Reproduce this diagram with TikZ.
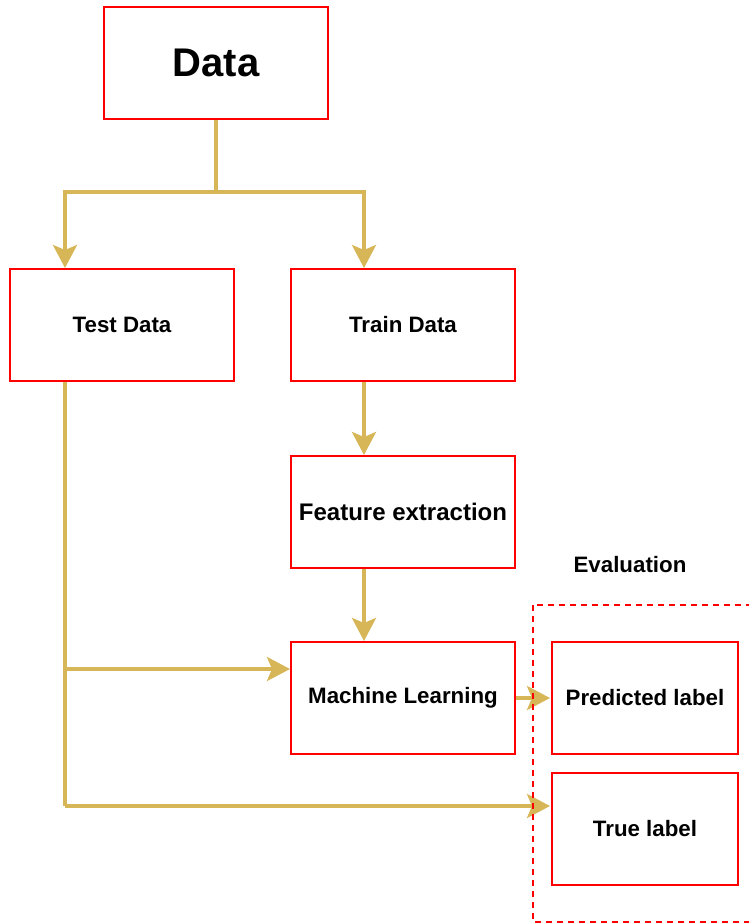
\documentclass[tikz,border=0pt]{standalone}
\usepackage{fontspec}
\setmainfont{Liberation Sans}
\usetikzlibrary{arrows.meta}
\definecolor{boxred}{HTML}{FF0000}
\definecolor{gold}{HTML}{D6B656}
\tikzset{
  box/.style={draw=boxred, line width=2pt, fill=white, minimum width=224pt,
    minimum height=112pt, inner sep=0pt, font=\bfseries\fontsize{22.3}{26}\selectfont},
  smallbox/.style={box, minimum width=186pt},
  wire/.style={draw=gold, line width=3.5pt},
  flow/.style={wire, -{Stealth[length=23pt, width=24pt, inset=5pt]}},
}
\begin{document}
\begin{tikzpicture}[x=1pt, y=-1pt]
  \useasboundingbox (0,0) rectangle (749,924);

  \node[box, font=\bfseries\fontsize{40}{48}\selectfont] (data) at (216,63) {Data};
  \node[box] (test)  at (122,325) {Test Data};
  \node[box] (train) at (403,325) {Train Data};
  \node[box, font=\bfseries\fontsize{24}{28}\selectfont] (feat) at (403,512) {Feature extraction};
  \node[box] (ml)    at (403,698) {Machine Learning};
  \node[smallbox] (pred) at (645,698) {Predicted label};
  \node[smallbox] (true) at (645,829) {True label};
  \node[font=\bfseries\fontsize{22.3}{26}\selectfont] (eval) at (630,565) {Evaluation};

  % column guides and bend points of the connectors
  \coordinate (colL) at (65,0);
  \coordinate (colR) at (364,0);
  \coordinate (fork) at (216,192);
  \coordinate (tap)  at (65,669);
  \coordinate (bot)  at (65,806);
  \coordinate (trueIn) at (550,806);

  \draw[wire] (data.south) -- (fork);
  \draw[flow] (fork) -| (test.north -| colL);
  \draw[flow] (fork) -| (train.north -| colR);
  \draw[wire] (test.south -| colL) -- (bot);
  \draw[flow] (tap) -- (ml.west |- tap);
  \draw[flow] (bot) -- (trueIn);
  \draw[flow] (train.south -| colR) -- (feat.north -| colR);
  \draw[flow] (feat.south -| colR) -- (ml.north -| colR);
  \draw[flow] (ml.east) -- ([xshift=-1pt]pred.west);

  % dashed frame of the evaluation group, running off the right edge
  \begin{scope}
    \clip (0,0) rectangle (749,924);
    \draw[boxred, line width=1.6pt, dash pattern=on 6pt off 5pt] (533,605) rectangle (760,922);
  \end{scope}
\end{tikzpicture}
\end{document}
